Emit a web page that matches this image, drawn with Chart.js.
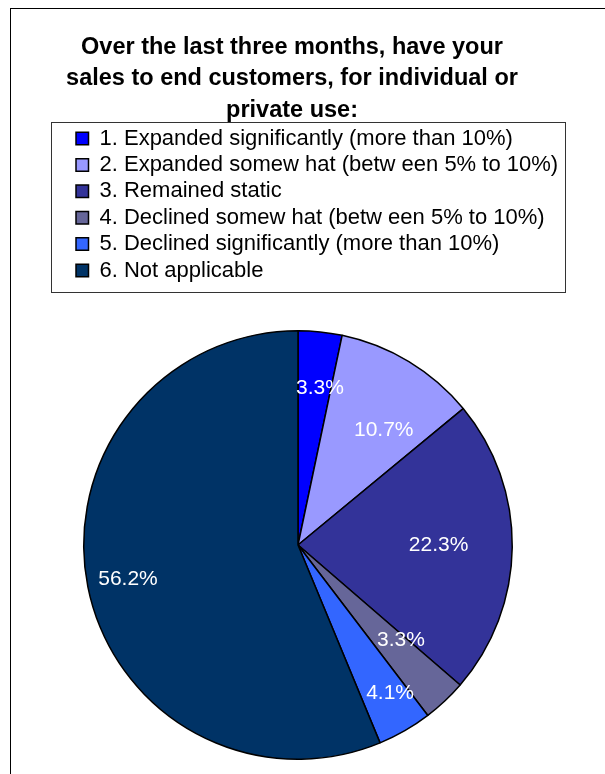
<!DOCTYPE html>
<html>
<head>
<meta charset="utf-8">
<script src="https://cdn.jsdelivr.net/npm/chart.js@4/dist/chart.umd.min.js"></script>
<style>
  html, body { margin: 0; padding: 0; background: #fff; overflow: hidden; }
  #wrap { position: relative; width: 605px; height: 774px; overflow: hidden; }
  #frame { position: absolute; left: 10px; top: 8px; width: 700px; height: 900px;
           border-left: 1px solid #000; border-top: 1px solid #000; }
  #c { position: absolute; left: 0; top: 0; }
</style>
</head>
<body>
<div id="wrap">
  <div id="frame"></div>
  <canvas id="c" width="605" height="774"></canvas>
</div>
<script>
// Survey answers and their share of respondents (%)
const categories = [
  '1. Expanded significantly (more than 10%)',
  '2. Expanded somew hat (betw een 5% to 10%)',
  '3. Remained static',
  '4. Declined somew hat (betw een 5% to 10%)',
  '5. Declined significantly (more than 10%)',
  '6. Not applicable'
];
const shares = [3.3, 10.7, 22.3, 3.3, 4.1, 56.2];
const sliceColors = ['#0000FF', '#9999FF', '#333399', '#666699', '#3366FF', '#003366'];
const titleLines = [
  'Over the last three months, have your',
  'sales to end customers, for individual or',
  'private use:'
];

// Where each percentage label sits: fraction of the radius, and a small turn (degrees) off the slice middle
const labelRadius = [0.737, 0.668, 0.656, 0.653, 0.813, 0.809];
const labelTurn = [2.05, 5.65, -0.55, -4.15, -2.0, 0];

const FONT = '"Liberation Sans", Arial, Helvetica, sans-serif';
const LEGEND_PAD = 4.4;

// Leaves a gap between the legend and the pie
const legendGap = {
  id: 'legendGap',
  beforeInit(chart) {
    const fit = chart.legend.fit;
    chart.legend.fit = function () {
      fit.bind(chart.legend)();
      this.height += 38.5;
    };
  }
};

// Title sits slightly left of the pie centre; legend entries get room to run past the pie's width
const blockNudge = {
  id: 'blockNudge',
  afterLayout(chart) {
    const t = chart.titleBlock;
    if (t) { t.left -= 6; t.right -= 6; }
    const lg = chart.legend;
    if (lg) {
      lg.left = 76 - LEGEND_PAD;
      lg.right = chart.width - 5;
      lg.width = lg.right - lg.left;
    }
  }
};

// Outline around the legend entries
const legendFrame = {
  id: 'legendFrame',
  afterDraw(chart) {
    const lg = chart.legend;
    const boxes = lg.legendHitBoxes;
    if (!boxes || !boxes.length) return;
    let minX = Infinity, maxX = -Infinity, maxY = -Infinity;
    boxes.forEach(b => {
      minX = Math.min(minX, b.left);
      maxX = Math.max(maxX, b.left + b.width);
      maxY = Math.max(maxY, b.top + b.height);
    });
    const ctx = chart.ctx;
    ctx.save();
    ctx.strokeStyle = '#333';
    ctx.lineWidth = 1;
    const x0 = Math.round(minX - 25) + 0.5;
    const x1 = Math.round(maxX + 7) + 0.5;
    const y0 = Math.round(lg.top - 1.5) + 0.5;
    const y1 = Math.round(maxY + 10) + 0.5;
    ctx.strokeRect(x0, y0, x1 - x0, y1 - y0);
    ctx.restore();
  }
};

// Percentage labels inside the slices
const sliceLabels = {
  id: 'sliceLabels',
  afterDatasetsDraw(chart) {
    const ctx = chart.ctx;
    const meta = chart.getDatasetMeta(0);
    const values = chart.data.datasets[0].data;
    ctx.save();
    ctx.fillStyle = '#fff';
    ctx.font = '21px ' + FONT;
    ctx.textAlign = 'center';
    ctx.textBaseline = 'middle';
    meta.data.forEach((arc, i) => {
      const p = arc.getProps(['x', 'y', 'startAngle', 'endAngle', 'outerRadius'], true);
      const a = (p.startAngle + p.endAngle) / 2 + labelTurn[i] * Math.PI / 180;
      const r = p.outerRadius * labelRadius[i];
      ctx.fillText(values[i].toFixed(1) + '%', p.x + Math.cos(a) * r, p.y + Math.sin(a) * r);
    });
    ctx.restore();
  }
};

new Chart(document.getElementById('c'), {
  type: 'pie',
  data: {
    labels: categories,
    datasets: [{
      data: shares,
      backgroundColor: sliceColors,
      borderColor: '#000',
      borderWidth: 1.5
    }]
  },
  options: {
    responsive: false,
    animation: false,
    devicePixelRatio: 1,
    layout: { padding: { left: 66.6, right: 75.6, top: 0, bottom: 14 } },
    plugins: {
      tooltip: { enabled: false },
      title: {
        display: true,
        text: titleLines,
        color: '#000',
        font: { family: FONT, size: 23.5, weight: 'bold', lineHeight: 31.5 / 23.5 },
        padding: { top: 31.4, bottom: -2.8 }
      },
      legend: {
        display: true,
        position: 'top',
        align: 'start',
        labels: {
          color: '#000',
          font: { family: FONT, size: 22 },
          boxWidth: 12.5,
          boxHeight: 12.5,
          padding: LEGEND_PAD
        }
      }
    }
  },
  plugins: [legendGap, blockNudge, legendFrame, sliceLabels]
});
</script>
</body>
</html>
